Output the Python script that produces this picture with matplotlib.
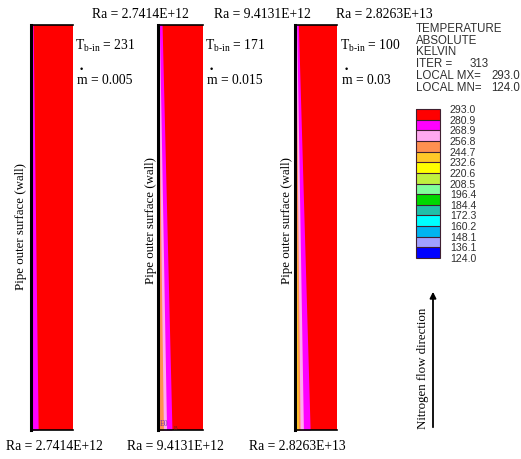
import matplotlib
matplotlib.use('Agg')
import matplotlib.pyplot as plt
from matplotlib.colors import ListedColormap, BoundaryNorm
from matplotlib.cm import ScalarMappable
from matplotlib.patches import FancyArrowPatch

plt.rcParams['mathtext.fontset'] = 'custom'
plt.rcParams['mathtext.rm'] = 'Liberation Serif'
plt.rcParams['mathtext.it'] = 'Liberation Serif:italic'

W, H = 521, 459

# contour levels (K) and fill colours, low -> high
levels = [124.0, 136.1, 148.1, 160.2, 172.3, 184.4, 196.4, 208.5,
          220.6, 232.6, 244.7, 256.8, 268.9, 280.9, 293.0]
level_colors = ['#0000ff', '#a0a0ff', '#00b4f0', '#00ffff', '#20c0a8',
                '#00d800', '#80ff9c', '#c0f040', '#ffff00', '#ffc828',
                '#ff9050', '#ffa8f0', '#ff00ff', '#ff0000']

ra_values = ['2.7414E+12', '9.4131E+12', '2.8263E+13']
t_inlet = [231, 171, 100]
m_flow = ['0.005', '0.015', '0.03']
iter_no = 313
t_max, t_min = 293.0, 124.0

# temperature inside each cold layer next to the wall
layer_temps = [275.0, 262.0, 250.0, 238.0]
# edge of each layer as fraction of panel width: (at bottom, at top)
layer_edges = [
    [(0.17, 0.05)],
    [(0.31, 0.09), (0.19, 0.03), (0.12, 0.0)],
    [(0.36, 0.08), (0.20, 0.04), (0.12, 0.02), (0.08, 0.0)],
]

cmap = ListedColormap(level_colors)
norm = BoundaryNorm(levels, cmap.N)

panel_left = [31, 158, 295]
panel_width = [42, 45, 42]
panel_top, panel_bottom = 24.5, 430

fig = plt.figure(figsize=(W / 100, H / 100), dpi=100)


def fx(x):
    return x / W


def fy(y):
    return 1 - y / H


serif = 'Liberation Serif'
sans = 'Liberation Sans'

for i in range(3):
    ax = fig.add_axes([fx(panel_left[i]), fy(panel_bottom),
                       panel_width[i] / W, (panel_bottom - panel_top) / H])
    ax.set_xlim(0, 1)
    ax.set_ylim(0, 1)
    ax.axvspan(0, 1, color=cmap(norm(t_max - 1)), lw=0)
    for edge, temp in zip(layer_edges[i], layer_temps):
        ax.fill_betweenx([0, 1], 0, list(edge), color=cmap(norm(temp)), lw=0)
    ax.set_xticks([])
    ax.set_yticks([])
    ax.spines['right'].set_visible(False)
    ax.spines['left'].set_linewidth(2.2)
    ax.spines['top'].set_linewidth(1.2)
    ax.spines['bottom'].set_linewidth(1.2)

    # wall label
    fig.text(fx([21.5, 151, 287][i]), fy([227, 221, 221][i]),
             'Pipe outer surface (wall)', rotation=90, ha='center',
             va='center', family=serif, fontsize=9.3)

    # inlet conditions
    tx = [75, 205, 340][i]
    fig.text(fx(tx), fy(46), r'T$_{\mathrm{b‐in}}$ = %d' % t_inlet[i],
             family=serif, fontsize=9.8, va='center')
    fig.text(fx(tx + 2), fy(80), 'm = ' + m_flow[i],
             family=serif, fontsize=9.8, va='center')
    fig.text(fx(tx + 6), fy(69), '•', family=sans, fontsize=6.5,
             ha='center', va='center')

    # Rayleigh numbers
    fig.text(fx([54, 175, 297][i]), fy(447), 'Ra = ' + ra_values[i],
             family=serif, fontsize=9.8, ha='center', va='center')
    fig.text(fx([140, 262, 384][i]), fy(14), 'Ra = ' + ra_values[i],
             family=serif, fontsize=9.8, ha='center', va='center')

# small artefacts at the bottom of the middle panel
fig.text(fx(160), fy(424), 'E0', fontsize=5.5, color='#7030a0',
         family=serif, va='center')
fig.text(fx(174), fy(428), 'B', fontsize=4, color='#602020',
         family=serif, va='center')

# header block
head = ['TEMPERATURE', 'ABSOLUTE', 'KELVIN']
for k, s in enumerate(head):
    fig.text(fx(416), fy(29 + 11.7 * k), s, family=sans, fontsize=8.3,
             color='#303030', va='center')
fig.text(fx(416), fy(64), 'ITER =', family=sans, fontsize=8.3,
         color='#303030', va='center')
fig.text(fx(489), fy(64), str(iter_no), family=sans, fontsize=8.3,
         color='#303030', va='center', ha='right')
fig.text(fx(416), fy(76), 'LOCAL MX=', family=sans, fontsize=8.3,
         color='#303030', va='center')
fig.text(fx(520), fy(76), '%.1f' % t_max, family=sans, fontsize=8.3,
         color='#303030', va='center', ha='right')
fig.text(fx(416), fy(87.5), 'LOCAL MN=', family=sans, fontsize=8.3,
         color='#303030', va='center')
fig.text(fx(520), fy(87.5), '%.1f' % t_min, family=sans, fontsize=8.3,
         color='#303030', va='center', ha='right')

# colour key
cax = fig.add_axes([fx(416), fy(258), 24 / W, (258 - 109) / H])
cb = fig.colorbar(ScalarMappable(norm=norm, cmap=cmap), cax=cax,
                  ticks=levels, drawedges=True)
cb.outline.set_edgecolor('#402030')
cb.outline.set_linewidth(0.8)
cb.dividers.set_color('#402030')
cb.dividers.set_linewidth(0.8)
cax.set_yticklabels(['%.1f' % v for v in levels])
cax.tick_params(length=0, pad=7, labelsize=7.6, labelcolor='#303030')
for lab in cax.get_yticklabels():
    lab.set_family(sans)

# flow direction
fig.add_artist(FancyArrowPatch((fx(433), fy(430)), (fx(433), fy(289)),
                               transform=fig.transFigure, arrowstyle='-|>',
                               mutation_scale=9, lw=1.3, color='black'))
fig.text(fx(423), fy(368), 'Nitrogen flow direction', rotation=90,
         ha='center', va='center', family=serif, fontsize=9.3)

fig.savefig('out.png', dpi=100)
